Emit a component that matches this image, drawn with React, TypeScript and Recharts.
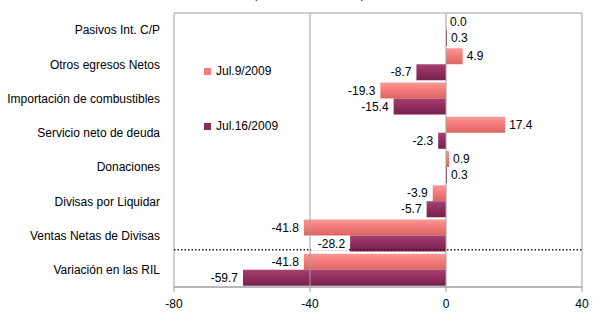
import React from 'react';
import { BarChart, Bar, XAxis, YAxis, Legend, LabelList, ReferenceLine, ReferenceArea } from 'recharts';

const categories = [
  'Pasivos Int. C/P',
  'Otros egresos Netos',
  'Importación de combustibles',
  'Servicio neto de deuda',
  'Donaciones',
  'Divisas por Liquidar',
  'Ventas Netas de Divisas',
  'Variación en las RIL',
];
const jul9 = [0.0, 4.9, -19.3, 17.4, 0.9, -3.9, -41.8, -41.8];
const jul16 = [0.3, -8.7, -15.4, -2.3, 0.3, -5.7, -28.2, -59.7];
const xTicks = [-80, -40, 0, 40];
const seriesNames = ['Jul.9/2009', 'Jul.16/2009'];

const data = categories.map((c, i) => ({ cat: c, a: jul9[i], b: jul16[i] }));

const FONT = 'Liberation Sans, Arial, sans-serif';

const ValueLabel = (props: any) => {
  const { x, y, width, height, value } = props;
  const left = Math.min(x, x + width);
  const right = Math.max(x, x + width);
  const cy = y + height / 2;
  const txt = Number(value).toFixed(1);
  const w = txt.length * 6.4 + 4;
  const neg = value < 0;
  const tx = neg ? left - 5 : right + 4;
  const rx = neg ? tx - w + 2 : tx - 2;
  return (
    <g>
      <rect x={rx} y={cy - 7} width={w} height={14} fill="#fff" />
      <text x={tx} y={cy} dy="0.35em" textAnchor={neg ? 'end' : 'start'} fontSize={12} fontFamily={FONT} fill="#000">
        {txt}
      </text>
    </g>
  );
};

const CatTick = (props: any) => {
  const { x, y, payload } = props;
  return (
    <text x={x} y={y} dy="0.35em" textAnchor="end" fontSize={12} fontFamily={FONT} fill="#000">
      {payload.value}
    </text>
  );
};

const DottedShape = (props: any) => {
  const { x1, y1, x2, y2 } = props;
  return (
    <line x1={x1} y1={y1 - 3} x2={x2} y2={y2 - 3} stroke="#222" strokeWidth={1.5} strokeDasharray="1.5 2" />
  );
};

const LegendContent = () => (
  <div style={{ fontFamily: FONT, fontSize: 12, color: '#000' }}>
    {seriesNames.map((n, i) => (
      <div key={n} style={{ display: 'flex', alignItems: 'center', height: 14, marginBottom: i === 0 ? 41 : 0 }}>
        <span style={{ display: 'inline-block', width: 7, height: 7, background: i === 0 ? '#F47C7A' : '#8E2C5E', marginRight: 5 }} />
        <span>{n}</span>
      </div>
    ))}
  </div>
);

export default function App() {
  return (
    <div style={{ position: 'absolute', left: 0, top: 0, width: 593, height: 313, background: '#fff', overflow: 'hidden' }}>
      <div style={{ position: 'absolute', top: -12, left: 0, width: 618, textAlign: 'center', fontFamily: FONT, fontSize: 12, lineHeight: '12px', color: '#000' }}>
        (millones de dólares)
      </div>
      <BarChart
        width={593}
        height={313}
        data={data}
        layout="vertical"
        margin={{ top: 13, right: 11, bottom: 0, left: 0 }}
        barCategoryGap={1}
        barGap={0}
      >
        <defs>
          <linearGradient id="gPink" x1="0" y1="0" x2="0" y2="1">
            <stop offset="0%" stopColor="#F99A97" />
            <stop offset="45%" stopColor="#F47C7A" />
            <stop offset="100%" stopColor="#DC6462" />
          </linearGradient>
          <linearGradient id="gPurple" x1="0" y1="0" x2="0" y2="1">
            <stop offset="0%" stopColor="#A5416F" />
            <stop offset="45%" stopColor="#922F61" />
            <stop offset="100%" stopColor="#76204B" />
          </linearGradient>
        </defs>
        <ReferenceArea x1={-80} x2={40} fill="none" stroke="#a0a0a0" strokeWidth={1} ifOverflow="visible" />
        <XAxis
          type="number"
          domain={[-80, 40]}
          ticks={xTicks}
          height={26}
          axisLine={{ stroke: '#a0a0a0' }}
          tickLine={{ stroke: '#a0a0a0' }}
          tickSize={5}
          tickMargin={7}
          tick={{ fontSize: 12, fontFamily: FONT, fill: '#000' }}
        />
        <YAxis
          type="category"
          dataKey="cat"
          width={174}
          axisLine={false}
          tickLine={false}
          tickMargin={8}
          interval={0}
          tick={<CatTick />}
        />
        <ReferenceLine x={-40} stroke="#a0a0a0" />
        <ReferenceLine x={0} stroke="#a0a0a0" />
        <Legend
          layout="horizontal"
          verticalAlign="middle"
          align="center"
          content={<LegendContent />}
          wrapperStyle={{ position: 'absolute', left: 204, top: 64, width: 120 }}
        />
        <Bar dataKey="a" name={seriesNames[0]} fill="url(#gPink)" minPointSize={0.1} isAnimationActive={false}>
          <LabelList dataKey="a" content={<ValueLabel />} />
        </Bar>
        <Bar dataKey="b" name={seriesNames[1]} fill="url(#gPurple)" isAnimationActive={false}>
          <LabelList dataKey="b" content={<ValueLabel />} />
        </Bar>
        <ReferenceLine
          y="Variación en las RIL"
          position="start"
          shape={<DottedShape />}
        />
      </BarChart>
    </div>
  );
}
